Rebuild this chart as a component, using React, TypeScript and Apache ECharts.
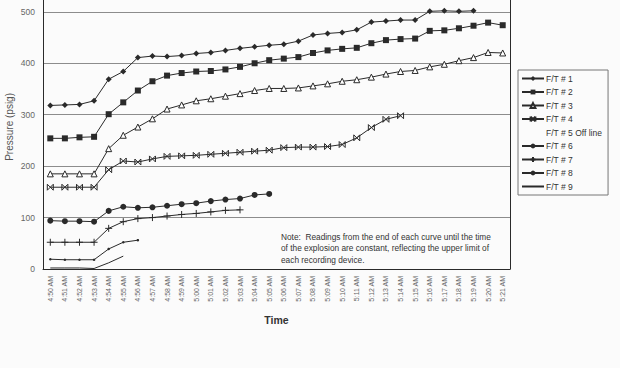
import React, { useEffect, useRef } from "react";
import * as echarts from "echarts";

const times = [
  "4:50 AM","4:51 AM","4:52 AM","4:53 AM","4:54 AM","4:55 AM","4:56 AM","4:57 AM",
  "4:58 AM","4:59 AM","5:00 AM","5:01 AM","5:02 AM","5:03 AM","5:04 AM","5:05 AM",
  "5:06 AM","5:07 AM","5:08 AM","5:09 AM","5:10 AM","5:11 AM","5:12 AM","5:13 AM",
  "5:14 AM","5:15 AM","5:16 AM","5:17 AM","5:18 AM","5:19 AM","5:20 AM","5:21 AM",
];

const ft1 = [318,319,320,327,369,384,411,414,413,415,419,421,425,429,432,435,437,443,455,458,460,465,480,482,484,484,501,502,501,502];
const ft2 = [254,254,256,257,301,324,347,365,376,381,384,385,388,393,400,406,409,412,420,425,428,430,439,445,447,448,463,464,468,473,479,474];
const ft3 = [185,185,185,185,234,260,276,292,311,319,327,331,336,341,347,351,351,352,356,360,365,368,373,379,384,386,393,398,405,411,421,420];
const ft4 = [159,159,159,159,193,210,208,214,219,220,221,223,225,227,229,231,236,237,237,238,242,255,275,291,298];
const ft5: number[] = [];
const ft6 = [94,93,93,92,113,121,119,120,123,126,128,132,135,137,144,146];
const ft7 = [52,52,52,52,79,92,98,100,103,106,108,111,114,115];
const ft8 = [19,18,18,18,39,52,56];
const ft9 = [2,2,2,1,12,25];

const names = ["F/T # 1","F/T # 2","F/T # 3","F/T # 4","F/T # 5 Off line","F/T # 6","F/T # 7","F/T # 8","F/T # 9"];

const yTicks = [0, 100, 200, 300, 400, 500];

const noteLines = [
  "Note:  Readings from the end of each curve until the time",
  "of the explosion are constant, reflecting the upper limit of",
  "each recording device.",
];

const FONT = "'Liberation Sans', Arial, sans-serif";
const INK = "#2a2a2a";
const EMPTY = "path://M0,0L1,0L1,1L0,1Z";

export default function App() {
  const ref = useRef<HTMLDivElement>(null);
  useEffect(() => {
    if (!ref.current) return;
    const chart = echarts.init(ref.current, null, { renderer: "svg" });
    const mk = (
      name: string,
      data: number[],
      symbol: string,
      size: number,
      hollow = false,
      stroke = false
    ) => ({
      name,
      type: "line",
      data,
      symbol,
      symbolSize: size,
      lineStyle: { color: INK, width: 1 },
      itemStyle: {
        color: hollow ? "#fff" : INK,
        borderColor: INK,
        borderWidth: hollow || stroke ? 1 : 0,
      },
      emphasis: { disabled: true },
    });
    const series: any[] = [
      mk(names[0], ft1, "diamond", 6),
      mk(names[1], ft2, "rect", 6),
      mk(names[2], ft3, "triangle", 6, true),
      mk(names[3], ft4, "path://M0,0L10,10M10,0L0,10M0,0L0,10M10,0L10,10", 6, false, true),
      {
        name: names[4],
        type: "line",
        data: ft5,
        symbol: EMPTY,
        lineStyle: { color: "rgba(0,0,0,0)", width: 0 },
        itemStyle: { color: "rgba(0,0,0,0)", borderWidth: 0 },
      },
      mk(names[5], ft6, "circle", 6),
      mk(names[6], ft7, "path://M5,0L5,10M0,5L10,5", 7, false, true),
      mk(names[7], ft8, "circle", 2.5),
      {
        name: names[8],
        type: "line",
        data: ft9,
        symbol: EMPTY,
        showSymbol: false,
        lineStyle: { color: INK, width: 1 },
        itemStyle: { color: "rgba(0,0,0,0)", borderWidth: 0 },
        emphasis: { disabled: true },
      },
    ];
    chart.setOption({
      animation: false,
      backgroundColor: "#fbfbfb",
      textStyle: { fontFamily: FONT },
      grid: { left: 43, right: 110, top: 0, bottom: 99 },
      xAxis: {
        type: "category",
        data: times,
        boundaryGap: true,
        axisLine: { lineStyle: { color: INK, width: 1 } },
        axisTick: { show: false },
        axisLabel: {
          rotate: 90,
          interval: 0,
          fontSize: 7,
          color: "#666",
          margin: 7,
          fontFamily: FONT,
        },
        name: "Time",
        nameLocation: "middle",
        nameGap: 45,
        nameTextStyle: { fontSize: 10.5, fontWeight: "bold", color: "#333", fontFamily: FONT },
      },
      yAxis: [
        {
          type: "value",
          min: 0,
          max: 523,
          interval: 100,
          axisLine: { show: true, lineStyle: { color: INK, width: 1 } },
          axisTick: { show: false },
          axisLabel: {
            fontSize: 8.5,
            color: "#666",
            margin: 8,
            fontFamily: FONT,
            formatter: (v: number) => (yTicks.indexOf(v) >= 0 ? String(v) : ""),
          },
          splitLine: { show: true, showMaxLine: false, lineStyle: { color: "#8c8c8c", width: 1 } },
        },
        {
          type: "value",
          min: 0,
          max: 523,
          interval: 100,
          position: "right",
          axisLine: { show: true, lineStyle: { color: INK, width: 1 } },
          axisTick: { show: false },
          axisLabel: { show: false },
          splitLine: { show: false },
        },
      ],
      legend: {
        orient: "vertical",
        left: 518,
        top: 70,
        width: 90,
        padding: [4, 6, 4, 3],
        itemGap: 4.5,
        itemWidth: 22,
        itemHeight: 6,
        borderColor: "#777",
        borderWidth: 1,
        backgroundColor: "#fbfbfb",
        selectedMode: false,
        data: names,
        textStyle: { fontSize: 8.5, color: "#333", padding: [0, 0, 0, -3], fontFamily: FONT },
      },
      graphic: [
        {
          type: "text",
          left: 4,
          top: 93,
          rotation: Math.PI / 2,
          style: { text: "Pressure (psig)", fontSize: 10, fill: "#555", fontFamily: FONT },
        },
        {
          type: "text",
          left: 281,
          top: 231,
          style: {
            text: noteLines.join("\n"),
            fontSize: 8.3,
            lineHeight: 11.5,
            fill: "#333",
            fontFamily: FONT,
          },
        },
      ],
      series,
    });
    return () => chart.dispose();
  }, []);
  return (
    <div
      ref={ref}
      style={{ position: "fixed", left: 0, top: 0, width: 620, height: 368 }}
    />
  );
}
